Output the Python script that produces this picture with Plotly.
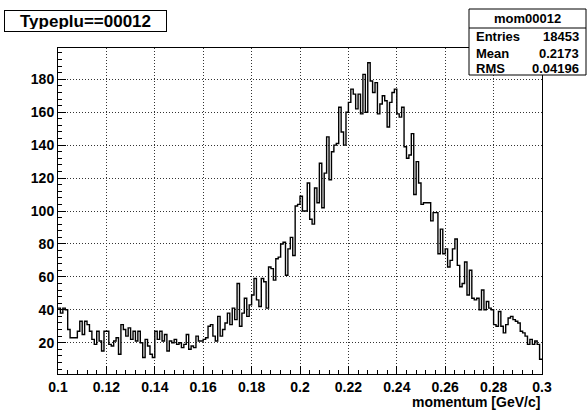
import numpy as np
import plotly.graph_objects as go

# Histogram definition: 200 bins of momentum between 0.1 and 0.3 GeV/c
x_low, x_high = 0.1, 0.3
bin_counts = [
    41, 38, 41, 40, 28, 23, 23, 23, 27, 33,
    25, 33, 31, 27, 22, 19, 27, 21, 15, 27,
    27, 19, 18, 21, 23, 13, 31, 28, 24, 29,
    22, 27, 21, 27, 20, 11, 22, 18, 13, 11,
    27, 22, 27, 21, 25, 15, 21, 20, 22, 19,
    20, 17, 19, 25, 16, 18, 17, 24, 21, 21,
    22, 23, 30, 31, 24, 21, 36, 24, 28, 32,
    38, 31, 41, 34, 56, 30, 38, 47, 36, 43,
    49, 59, 46, 42, 59, 57, 41, 66, 65, 58,
    71, 72, 80, 81, 61, 77, 84, 73, 103, 104,
    109, 100, 100, 117, 95, 92, 114, 105, 129, 102,
    123, 145, 119, 136, 140, 141, 163, 148, 140, 160,
    166, 174, 171, 162, 171, 159, 183, 160, 190, 179,
    172, 178, 159, 165, 170, 167, 151, 166, 172, 174,
    159, 157, 163, 139, 132, 134, 147, 110, 130, 117,
    104, 105, 105, 105, 94, 99, 99, 74, 89, 74,
    77, 66, 70, 77, 83, 67, 54, 56, 69, 49,
    64, 47, 46, 47, 40, 52, 40, 45, 41, 40,
    31, 30, 39, 30, 26, 31, 35, 36, 34, 33,
    32, 27, 26, 24, 19, 22, 19, 21, 19, 10,
]

x_tick_values = [0.1, 0.12, 0.14, 0.16, 0.18, 0.2, 0.22, 0.24, 0.26, 0.28, 0.3]
x_tick_labels = ["0.1", "0.12", "0.14", "0.16", "0.18", "0.2", "0.22", "0.24", "0.26", "0.28", "0.3"]
y_tick_values = [20, 40, 60, 80, 100, 120, 140, 160, 180]
y_tick_labels = ["20", "40", "60", "80", "100", "120", "140", "160", "180"]

hist_title = "Typeplu==00012"
stats_name = "mom00012"
stats_rows = [("Entries", "18453"), ("Mean", "0.2173"), ("RMS", "0.04196")]
x_title = "momentum [GeV/c]"

# Step outline through the bin edges
edges = np.linspace(x_low, x_high, len(bin_counts) + 1)
step_y = list(bin_counts) + [bin_counts[-1]]

W, H = 587, 412
ML, MR, MT, MB = 58, 45, 48, 38
PW, PH = W - ML - MR, H - MT - MB


def px_x(px):
    return (px - ML) / PW


def px_y(py):
    return (H - MB - py) / PH


FONT = "Liberation Sans, Arial, Helvetica, sans-serif"

fig = go.Figure()
fig.add_trace(go.Scatter(
    x=edges, y=step_y, mode="lines", line_shape="hv",
    line=dict(color="black", width=1.4), hoverinfo="skip", showlegend=False,
))

axis_common = dict(
    showline=True, linecolor="black", linewidth=1, mirror=True,
    ticks="inside", tickcolor="black", ticklen=8, tickwidth=1,
    showgrid=True, gridcolor="#333333", gridwidth=1, griddash="1px,2px",
    zeroline=False,
    tickfont=dict(family=FONT, size=14, color="black", weight="bold"),
    tickmode="array",
)

fig.update_xaxes(
    **axis_common,
    range=[x_low, x_high],
    tickvals=x_tick_values, ticktext=x_tick_labels,
    minor=dict(tickmode="linear", tick0=x_low, dtick=0.004, ticks="inside",
               ticklen=4, tickcolor="black", showgrid=False),
)
fig.update_yaxes(
    **axis_common,
    range=[1, 199],
    tickvals=y_tick_values, ticktext=y_tick_labels,
    minor=dict(tickmode="linear", tick0=0, dtick=4, ticks="inside",
               ticklen=4, tickcolor="black", showgrid=False),
)

annotations = []
shapes = []

# Histogram title box
annotations.append(dict(
    xref="paper", yref="paper", x=px_x(4), y=px_y(10),
    xanchor="left", yanchor="top", showarrow=False,
    text=hist_title, width=157, height=16, align="center",
    font=dict(family=FONT, size=17, color="black", weight="bold"),
    bgcolor="white", bordercolor="black", borderwidth=1, borderpad=2,
))

# Statistics box
box_l, box_r, box_t, box_b = 469, 586, 9, 75
shapes.append(dict(type="rect", xref="paper", yref="paper",
                   x0=px_x(box_l), x1=px_x(box_r), y0=px_y(box_b), y1=px_y(box_t),
                   line=dict(color="black", width=1), fillcolor="white", layer="above"))
shapes.append(dict(type="line", xref="paper", yref="paper",
                   x0=px_x(box_l), x1=px_x(box_r), y0=px_y(28), y1=px_y(28),
                   line=dict(color="black", width=1), layer="above"))
stat_font = dict(family=FONT, size=13, color="black", weight="bold")
annotations.append(dict(
    xref="paper", yref="paper", x=px_x((box_l + box_r) / 2), y=px_y(18.5),
    xanchor="center", yanchor="middle", showarrow=False, text=stats_name, font=stat_font,
))
row_y = [37, 53, 68]
for (label, value), yy in zip(stats_rows, row_y):
    annotations.append(dict(xref="paper", yref="paper", x=px_x(box_l + 5), y=px_y(yy),
                            xanchor="left", yanchor="middle", showarrow=False,
                            text=label, font=stat_font))
    annotations.append(dict(xref="paper", yref="paper", x=px_x(box_r - 5), y=px_y(yy),
                            xanchor="right", yanchor="middle", showarrow=False,
                            text=value, font=stat_font))

# X axis title, right aligned under the frame
annotations.append(dict(
    xref="paper", yref="paper", x=1.0, y=px_y(402),
    xanchor="right", yanchor="middle", showarrow=False, text=x_title,
    font=dict(family=FONT, size=14, color="black", weight="bold"),
))

fig.update_layout(
    width=W, height=H,
    margin=dict(l=ML, r=MR, t=MT, b=MB, pad=0),
    paper_bgcolor="white", plot_bgcolor="white",
    annotations=annotations, shapes=shapes,
    showlegend=False,
)

fig.write_html("out.html", config={"displayModeBar": False})
